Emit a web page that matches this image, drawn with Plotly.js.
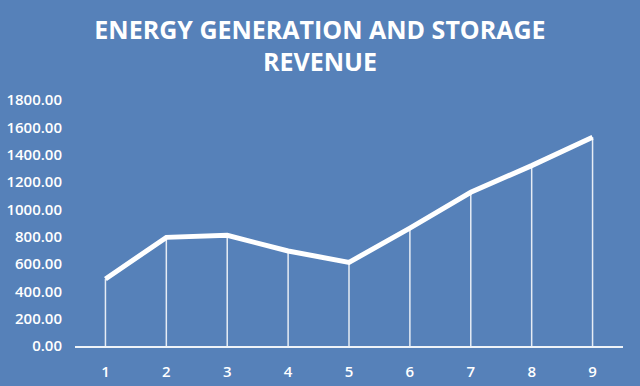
<!DOCTYPE html>
<html>
<head>
<meta charset="utf-8">
<script src="https://cdn.plot.ly/plotly-3.0.1.min.js"></script>
<style>html,body{margin:0;padding:0;background:#5681B9;}#chart{width:640px;height:386px;}</style>
</head>
<body>
<div id="chart"></div>
<script>
const categories = [1, 2, 3, 4, 5, 6, 7, 8, 9];
const revenue = [490, 795, 810, 695, 612, 862, 1125, 1320, 1528];
const yTicks = [0, 200, 400, 600, 800, 1000, 1200, 1400, 1600, 1800];

const bg = '#5681B9';
const trace = {
  x: categories,
  y: revenue,
  type: 'scatter',
  mode: 'lines',
  line: {color: '#ffffff', width: 5},
  error_y: {
    type: 'data',
    symmetric: false,
    array: revenue.map(() => 0),
    arrayminus: revenue,
    width: 0,
    thickness: 1.5,
    color: 'rgba(255,255,255,0.85)'
  },
  hoverinfo: 'x+y'
};

const tickFont = {family: 'Open Sans', size: 15, color: '#ffffff', weight: 600};

const layout = {
  width: 640,
  height: 386,
  paper_bgcolor: bg,
  plot_bgcolor: bg,
  margin: {l: 74.5, r: 16.5, t: 100, b: 40.3, pad: 0},
  showlegend: false,
  title: {
    text: '<b>ENERGY GENERATION AND STORAGE<br>REVENUE</b>',
    font: {family: 'Open Sans', size: 25, color: '#ffffff'},
    x: 0.5, xanchor: 'center',
    yref: 'container',
    y: 0.9, yanchor: 'top'
  },
  xaxis: {
    type: 'linear',
    range: [0.5, 9.5],
    tickvals: categories,
    ticktext: categories.map(String),
    showgrid: false,
    zeroline: false,
    showline: true,
    linecolor: 'rgba(255,255,255,0.9)',
    linewidth: 1.5,
    ticks: '',
    ticklabelstandoff: 11,
    tickfont: tickFont,
    fixedrange: true
  },
  yaxis: {
    range: [0, 1800],
    tickvals: yTicks,
    ticktext: yTicks.map(v => v.toFixed(2)),
    showgrid: false,
    zeroline: false,
    showline: false,
    ticks: '',
    ticklabelstandoff: 12,
    tickfont: tickFont,
    fixedrange: true
  }
};

Plotly.newPlot('chart', [trace], layout, {displayModeBar: false, staticPlot: true});
</script>
</body>
</html>
